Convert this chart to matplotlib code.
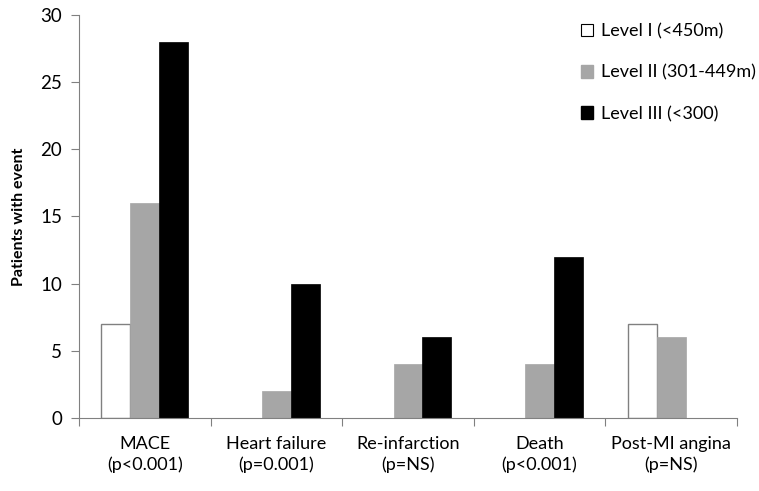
import numpy as np
import matplotlib.pyplot as plt
from matplotlib.patches import Patch

plt.rcParams['font.family'] = ['Lato', 'DejaVu Sans']

categories = ['MACE\n(p<0.001)', 'Heart failure\n(p=0.001)', 'Re-infarction\n(p=NS)',
              'Death\n(p<0.001)', 'Post-MI angina\n(p=NS)']
level1 = [7, 0, 0, 0, 7]
level2 = [16, 2, 4, 4, 6]
level3 = [28, 10, 6, 12, 0]
series_names = ['Level I (<450m)', 'Level II (301-449m)', 'Level III (<300)']

fig = plt.figure(figsize=(7.59, 4.91), dpi=100)
ax = fig.add_axes([79 / 759, 1 - 418 / 491, (737 - 79) / 759, (418 - 15) / 491])

x = np.arange(len(categories))
w = 0.22
edge = '#808080'
# skip zero-height bars so no stray edges on the baseline
l1 = np.array(level1)
ax.bar((x - w)[l1 > 0], l1[l1 > 0], w, color='white', edgecolor=edge, linewidth=1)
ax.bar(x, level2, w, color='#a6a6a6', edgecolor='#a6a6a6', linewidth=0.5)
ax.bar(x + w, level3, w, color='black', edgecolor='black', linewidth=0.5)

ax.set_xlim(-0.5, len(categories) - 0.5)
ax.set_ylim(0, 30)
ax.set_yticks(range(0, 31, 5))
ax.set_xticks(np.arange(len(categories) + 1) - 0.5, minor=False)
ax.set_xticklabels([])
ax.set_xticks(x, minor=True)
ax.set_xticklabels(categories, minor=True, fontsize=13, linespacing=1.3)
ax.tick_params(axis='x', which='minor', length=0, pad=13)
ax.tick_params(axis='x', which='major', length=6, color=edge, direction='out')
ax.tick_params(axis='y', length=6, color=edge, labelsize=13.5, pad=6)

for s in ['top', 'right']:
    ax.spines[s].set_visible(False)
for s in ['left', 'bottom']:
    ax.spines[s].set_color(edge)

ax.set_ylabel('Patients with event', fontsize=11.5, fontweight='bold', labelpad=10)

handles = [Patch(facecolor='white', edgecolor='black', linewidth=0.8),
           Patch(facecolor='#a6a6a6', edgecolor='#a6a6a6'),
           Patch(facecolor='black', edgecolor='black')]
ax.legend(handles, series_names, loc='upper left', bbox_to_anchor=(0.738, 1.02),
          frameon=False, fontsize=13, handlelength=0.7, handleheight=0.7,
          handletextpad=0.4, labelspacing=1.4)

fig.savefig('out.png', dpi=100)
